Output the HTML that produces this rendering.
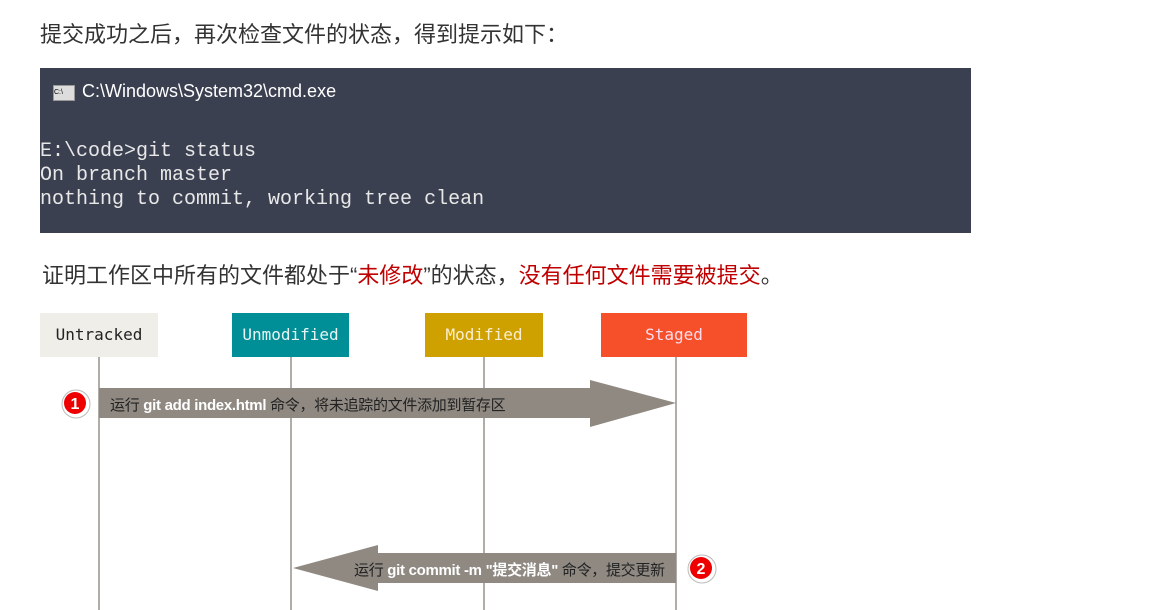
<!DOCTYPE html>
<html><head><meta charset="utf-8"><style>
body{margin:0;width:1155px;height:610px;background:#fff;position:relative;overflow:hidden;font-family:"Liberation Sans","Noto Sans CJK SC",sans-serif}
.a{position:absolute}
.t{font-size:22px;color:#333;white-space:nowrap}
.term{left:40px;top:68px;width:931px;height:165px;background:#3b4051}
.mono{font-family:"Liberation Mono","DejaVu Sans Mono",monospace;font-size:20px;color:#e8e8e8;white-space:pre;line-height:24px}
.box{top:313px;height:44px;line-height:44px;text-align:center;font-family:"DejaVu Sans Mono","Liberation Mono",monospace;font-size:16px}
.ll{width:2px;background:#b0aca8;top:357px;height:253px}
.lbl{font-size:15px;color:#222;white-space:nowrap;letter-spacing:-0.3px}
</style></head><body>
<div class="a t" style="left:40px;top:17px">提交成功之后，再次检查文件的状态，得到提示如下：</div>
<div class="a term"></div>
<div class="a" style="left:53px;top:85px;width:20px;height:14px;background:#ddd;border:1px solid #999;font-size:7px;line-height:14px;color:#000">C:\</div>
<div class="a" style="left:82px;top:81px;font-size:18px;color:#fff">C:\Windows\System32\cmd.exe</div>
<div class="a mono" style="left:40px;top:140px">E:\code&gt;git status
On branch master
nothing to commit, working tree clean</div>
<div class="a t" style="left:42px;top:258px">证明工作区中所有的文件都处于“<span style="color:#c00000">未修改</span>”的状态，<span style="color:#c00000">没有任何文件需要被提交</span>。</div>
<div class="a box" style="left:40px;width:118px;background:#efeee8;color:#222">Untracked</div>
<div class="a box" style="left:232px;width:117px;background:#008f96;color:#e8f4f4">Unmodified</div>
<div class="a box" style="left:425px;width:118px;background:#cfa100;color:#fbeed0">Modified</div>
<div class="a box" style="left:601px;width:146px;background:#f5502a;color:#fde">Staged</div>
<div class="a ll" style="left:98px"></div>
<div class="a ll" style="left:290px"></div>
<div class="a ll" style="left:483px"></div>
<div class="a ll" style="left:675px"></div>
<svg class="a" style="left:0;top:0" width="1155" height="610">
<polygon points="99,388 590,388 590,380 676,403 590,427 590,418 99,418" fill="#8f8982"/>
<polygon points="676,553 378,553 378,545 293,568 378,591 378,583 676,583" fill="#8f8982"/>
<circle cx="76" cy="404" r="14" fill="#fff" stroke="#bbb"/><circle cx="75" cy="403" r="11" fill="#e00"/>
<text x="75" y="409" font-size="16" font-weight="bold" fill="#fff" text-anchor="middle" font-family="Liberation Sans">1</text>
<circle cx="702" cy="569" r="14" fill="#fff" stroke="#bbb"/><circle cx="701" cy="568" r="11" fill="#e00"/>
<text x="701" y="574" font-size="16" font-weight="bold" fill="#fff" text-anchor="middle" font-family="Liberation Sans">2</text>
</svg>
<div class="a lbl" style="left:110px;top:394px">运行 <b style="color:#fff">git add index.html</b> 命令，将未追踪的文件添加到暂存区</div>
<div class="a lbl" style="left:354px;top:559px">运行 <b style="color:#fff">git commit -m "提交消息"</b> 命令，提交更新</div>
</body></html>
